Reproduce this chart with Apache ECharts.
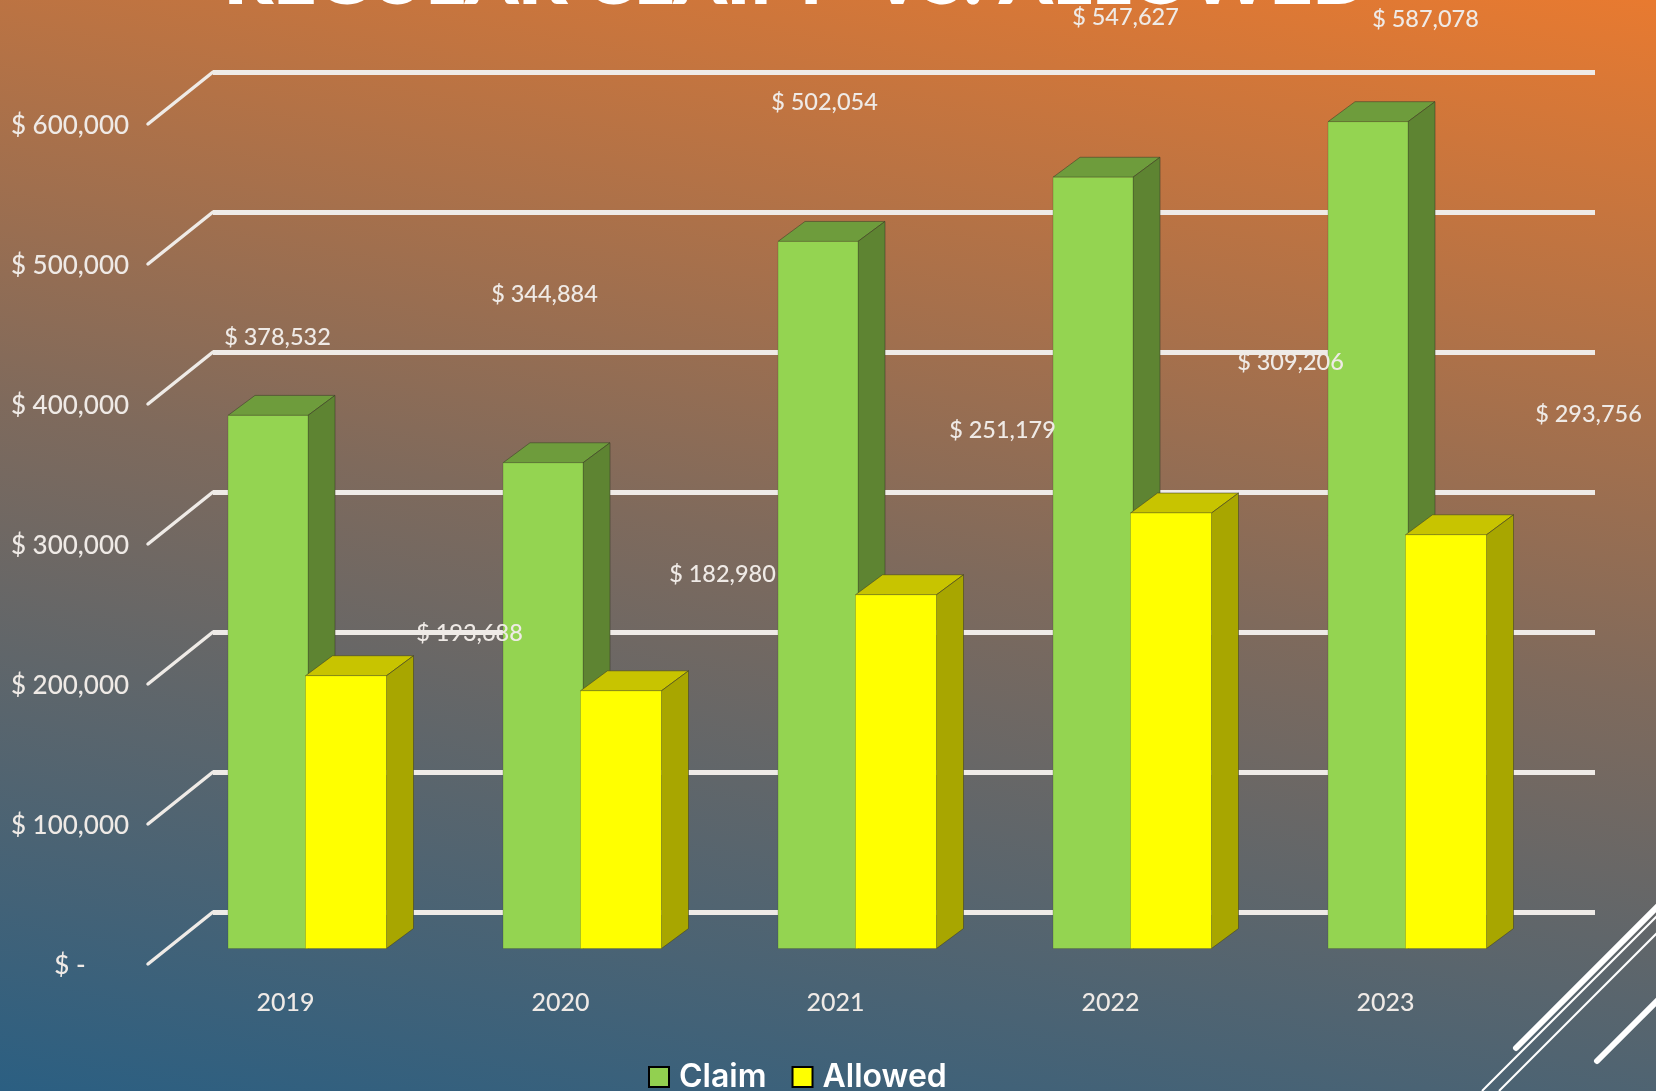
<!DOCTYPE html>
<html>
<head>
<meta charset="utf-8">
<style>html,body{margin:0;padding:0;background:#7a6a60}#chart{width:1656px;height:1091px}</style>
<script src="https://cdn.jsdelivr.net/npm/echarts@6/dist/echarts.min.js"></script>
</head>
<body>
<div id="chart"></div>
<script>
// Yearly totals, in dollars
const years = ['2019', '2020', '2021', '2022', '2023'];
const claim = [378532, 344884, 502054, 547627, 587078];
const allowed = [193688, 182980, 251179, 309206, 293756];
const yTicks = [0, 100000, 200000, 300000, 400000, 500000, 600000];

// Where each value label sits relative to the top of its bar
const claimLabelShift = [[10, -78], [2, -168], [7, -139], [33, -160], [58, -102]];
const allowedLabelShift = [[122, -42], [100, -116], [105, -164], [118, -151], [141, -120]];

const FONT = 'Lato, "Noto Sans", sans-serif';
const TEXT = '#efeae6';
const DEPTH_X = 27, DEPTH_Y = 20;   // oblique offset of a bar's back face
const WALL_X = 65, WALL_Y = 52;     // oblique offset of the back wall

const money = v => v === 0 ? '$ -' : '$ ' + v.toLocaleString('en-US');

// A front face with a lit top and a shaded side, drawn as a cabinet projection
function barRenderer(offset, width, colors) {
  return function (params, api) {
    const base = api.coord([api.value(0), 0]);
    const top = api.coord([api.value(0), api.value(1)]);
    const left = base[0] + offset;
    const right = left + width;
    const edge = { stroke: 'rgba(60,60,40,0.55)', lineWidth: 1 };
    return {
      type: 'group',
      children: [
        { type: 'polygon', shape: { points: [[left, top[1]], [right, top[1]], [right + DEPTH_X, top[1] - DEPTH_Y], [left + DEPTH_X, top[1] - DEPTH_Y]] },
          style: Object.assign({ fill: colors.top }, edge) },
        { type: 'polygon', shape: { points: [[right, top[1]], [right + DEPTH_X, top[1] - DEPTH_Y], [right + DEPTH_X, base[1] - DEPTH_Y], [right, base[1]]] },
          style: Object.assign({ fill: colors.side }, edge) },
        { type: 'rect', shape: { x: left, y: top[1], width: width, height: base[1] - top[1] },
          style: { fill: colors.front, stroke: 'rgba(60,70,30,0.25)', lineWidth: 1 } }
      ]
    };
  };
}

function labelRenderer(center, shifts) {
  return function (params, api) {
    const top = api.coord([api.value(0), api.value(1)]);
    const shift = shifts[params.dataIndex];
    return {
      type: 'text',
      x: top[0] + center + shift[0],
      y: top[1] + shift[1],
      style: { text: money(api.value(1)), fill: TEXT, font: '500 23.5px ' + FONT, align: 'center', verticalAlign: 'middle' }
    };
  };
}

function wallRenderer(params, api) {
  const p = api.coord([0, api.value(0)]);
  const x = p[0] - api.size([1, 0])[0] / 2;
  return {
    type: 'line',
    shape: { x1: x, y1: p[1], x2: x + WALL_X, y2: p[1] - WALL_Y },
    style: { stroke: '#efebe7', lineWidth: 3.5, lineCap: 'round' }
  };
}

const pairs = values => values.map((v, i) => [i, v]);
const hiddenCategory = (gridIndex, show) => ({
  type: 'category', gridIndex, data: years,
  axisLine: { show: false }, axisTick: { show: false }, splitLine: { show: false },
  axisLabel: { show, color: TEXT, fontFamily: FONT, fontSize: 25, fontWeight: 500, margin: 26 }
});
const valueAxis = (gridIndex, extra) => Object.assign({
  type: 'value', gridIndex, min: 0, max: 600000, interval: 100000,
  axisLine: { show: false }, axisTick: { show: false },
  splitLine: { show: false }, axisLabel: { show: false }
}, extra);

const chart = echarts.init(document.getElementById('chart'), null, { renderer: 'canvas' });
chart.setOption({
  animation: false,
  backgroundColor: new echarts.graphic.LinearGradient(0, 1, 0.143, -0.229, [
    { offset: 0, color: '#2b5f82' },
    { offset: 0.5, color: '#7f6a5c' },
    { offset: 1, color: '#e87a30' }
  ]),
  title: {
    text: 'REGULAR CLAIM" VS. ALLOWED',
    left: 219, top: -63,
    textStyle: { color: '#fff', fontFamily: FONT, fontWeight: 800, fontSize: 75 }
  },
  legend: {
    data: ['Claim', 'Allowed'],
    left: 648, top: 1061, padding: 0, itemWidth: 20, itemHeight: 20, itemGap: 25,
    selectedMode: false, icon: 'rect',
    itemStyle: { borderColor: '#000', borderWidth: 2 },
    textStyle: { color: '#fff', fontFamily: 'Inter, Lato, sans-serif', fontWeight: 600, fontSize: 32, padding: [0, 0, 0, 5] }
  },
  // Back wall, front edge of the floor, the plane the bars stand on, and the tick label column
  grid: [
    { left: 213, width: 1382, top: 72.5, height: 840 },
    { left: 148, width: 1375, top: 124, height: 840 },
    { left: 170, width: 1375, top: 103.5, height: 845 },
    { left: 148, width: 1375, top: 125.5, height: 840 }
  ],
  xAxis: [hiddenCategory(0, false), hiddenCategory(1, true), hiddenCategory(2, false), hiddenCategory(3, false)],
  yAxis: [
    valueAxis(0, { splitLine: { show: true, lineStyle: { color: '#efebe7', width: 5 } } }),
    valueAxis(1),
    valueAxis(2),
    valueAxis(3, { axisLabel: { show: true, color: TEXT, fontFamily: FONT, fontSize: 26, fontWeight: 500, align: 'center', margin: 78, formatter: money } })
  ],
  series: [
    { type: 'custom', name: 'wall', xAxisIndex: 1, yAxisIndex: 1, silent: true, z: 2,
      data: yTicks.map(v => [v]), encode: { y: 0 }, renderItem: wallRenderer },
    { type: 'custom', name: 'Claim', xAxisIndex: 2, yAxisIndex: 2, z: 3, silent: true,
      itemStyle: { color: '#92d050' }, data: pairs(claim), encode: { x: 0, y: 1 },
      renderItem: barRenderer(-79.5, 80, { front: '#94d451', top: '#6e9c3c', side: '#5e8432' }) },
    { type: 'custom', name: 'Allowed', xAxisIndex: 2, yAxisIndex: 2, z: 4, silent: true,
      itemStyle: { color: '#ffff00' }, data: pairs(allowed), encode: { x: 0, y: 1 },
      renderItem: barRenderer(-2, 81, { front: '#ffff00', top: '#c8c400', side: '#a8a600' }) },
    { type: 'custom', name: 'claimLabels', xAxisIndex: 2, yAxisIndex: 2, z: 5, silent: true,
      data: pairs(claim), encode: { x: 0, y: 1 }, renderItem: labelRenderer(-40, claimLabelShift) },
    { type: 'custom', name: 'allowedLabels', xAxisIndex: 2, yAxisIndex: 2, z: 5, silent: true,
      data: pairs(allowed), encode: { x: 0, y: 1 }, renderItem: labelRenderer(40, allowedLabelShift) }
  ],
  // Corner ornament of the slide
  graphic: [
    { type: 'line', shape: { x1: 1516, y1: 1048, x2: 1660, y2: 904 }, style: { stroke: '#fff', lineWidth: 6, lineCap: 'round' }, silent: true },
    { type: 'line', shape: { x1: 1597, y1: 1061, x2: 1660, y2: 998 }, style: { stroke: '#fff', lineWidth: 6, lineCap: 'round' }, silent: true },
    { type: 'line', shape: { x1: 1482, y1: 1091, x2: 1660, y2: 913 }, style: { stroke: '#fff', lineWidth: 2 }, silent: true },
    { type: 'line', shape: { x1: 1499, y1: 1091, x2: 1660, y2: 930 }, style: { stroke: '#fff', lineWidth: 2 }, silent: true }
  ]
});
</script>
</body>
</html>
